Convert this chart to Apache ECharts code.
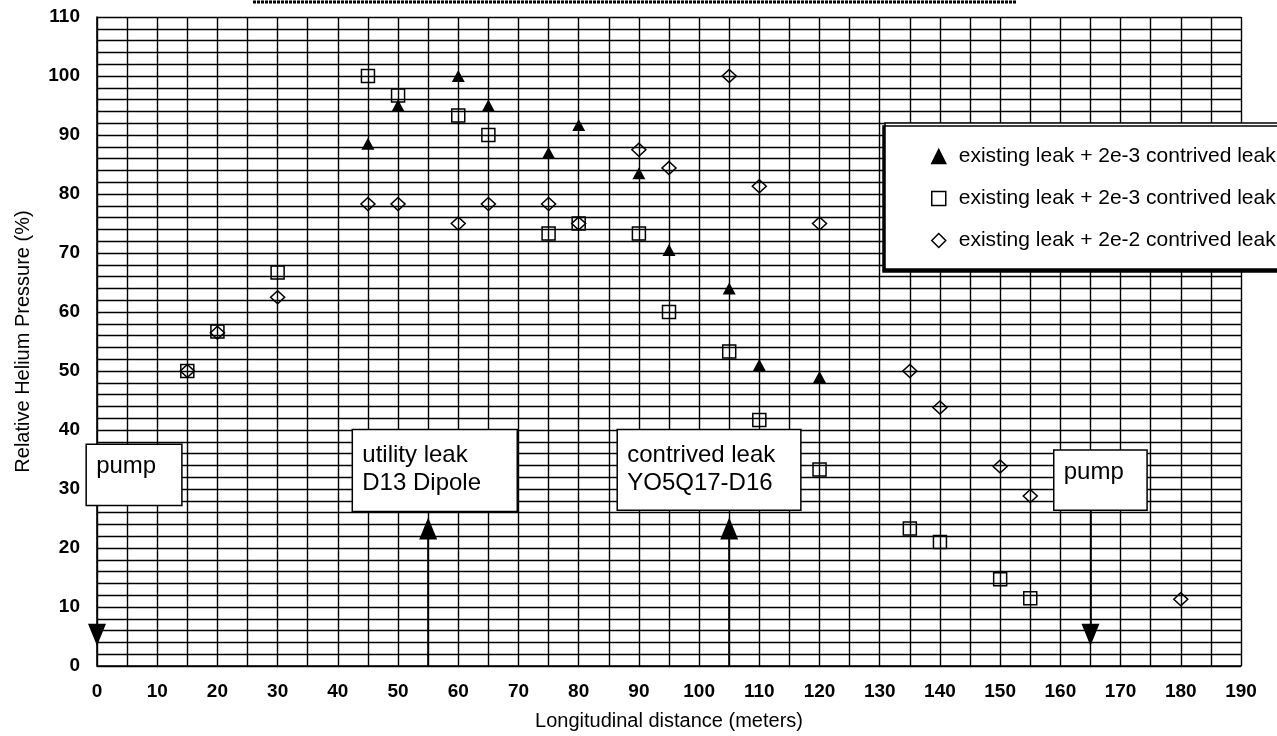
<!DOCTYPE html>
<html>
<head>
<meta charset="utf-8">
<script src="https://cdn.jsdelivr.net/npm/echarts@6/dist/echarts.min.js"></script>
<style>
  html, body { margin: 0; padding: 0; background: #fff; }
  #chart { width: 1277px; height: 736px; }
</style>
</head>
<body>
<div id="chart"></div>
<script>
// ---- data ----
const seriesNames = [
  'existing leak + 2e-3 contrived leak',
  'existing leak + 2e-3 contrived leak ',
  'existing leak + 2e-2 contrived leak'
];
const xTriangle = [45, 50, 60, 65, 75, 80, 90, 95, 105, 110, 120];
const yTriangle = [88.5, 95, 100, 95, 87, 91.7, 83.5, 70.5, 64, 51, 49];

const xSquare = [15, 20, 30, 45, 50, 60, 65, 75, 80, 90, 95, 105, 110, 120, 135, 140, 150, 155];
const ySquare = [50, 56.7, 66.7, 100, 96.7, 93.3, 90, 73.3, 75, 73.3, 60, 53.3, 41.7, 33.3, 23.3, 21, 14.7, 11.5];

const xDiamond = [15, 20, 30, 45, 50, 60, 65, 75, 80, 90, 95, 105, 110, 120, 135, 140, 150, 155, 180];
const yDiamond = [50, 56.5, 62.5, 78.3, 78.3, 75, 78.3, 78.3, 75, 87.5, 84.4, 100, 81.3, 75, 50, 43.8, 33.8, 28.8, 11.3];

// Location markers: pumps (pointing down) and leaks (pointing up)
const arrowX = [0, 55, 105, 165];
const arrowY = [5.3, 23.3, 23.3, 5.3];
const arrowDown = [true, false, false, true];
// shaft of each marker [x, yFrom, yTo]
const shafts = [[55, 0, 22], [105, 0, 22], [165, 26.4, 7]];

// annotation boxes: text and box extent [x0, yTop, x1, yBottom] in axis units
const noteText = ['pump', 'utility leak\nD13 Dipole', 'contrived leak\nYO5Q17-D16', 'pump'];
const noteBox = [
  [-1.8, 37.6, 14.1, 27.2],
  [42.4, 40.1, 69.8, 26.2],
  [86.4, 40.1, 116.9, 26.4],
  [158.9, 36.6, 174.4, 26.4]
];

const xLabelMin = 0, xLabelMax = 190, xStep = 10;
const yLabelMin = 0, yLabelMax = 110, yStep = 10;

// ---- chart ----
const FONT = '"Liberation Sans", Arial, Helvetica, sans-serif';
const zip = (xs, ys) => xs.map((x, i) => [x, ys[i]]);

const chart = echarts.init(document.getElementById('chart'), null, { renderer: 'canvas' });

const gridLine = { show: true, lineStyle: { color: '#000', width: 1.4 } };

const option = {
  animation: false,
  backgroundColor: '#fff',
  textStyle: { fontFamily: FONT },
  grid: { left: 97, right: 36, top: 17, bottom: 69, containLabel: false },
  xAxis: {
    type: 'value', min: xLabelMin, max: xLabelMax, interval: xStep,
    name: 'Longitudinal distance (meters)', nameLocation: 'middle', nameGap: 45,
    nameTextStyle: { fontSize: 20, color: '#000', fontFamily: FONT },
    axisLine: { show: true, onZero: false, lineStyle: { color: '#000', width: 1.6 } },
    axisTick: { show: false },
    axisLabel: { fontSize: 19, color: '#000', margin: 16, fontFamily: FONT, fontWeight: 'bold' },
    splitLine: gridLine,
    minorTick: { show: false, splitNumber: 2 },
    minorSplitLine: gridLine
  },
  yAxis: {
    type: 'value', min: yLabelMin, max: yLabelMax, interval: yStep,
    name: 'Relative Helium Pressure (%)', nameLocation: 'middle', nameGap: 64,
    nameTextStyle: { fontSize: 20, color: '#000', fontFamily: FONT },
    axisLine: { show: true, onZero: false, lineStyle: { color: '#000', width: 1.6 } },
    axisTick: { show: false },
    axisLabel: { fontSize: 19, color: '#000', margin: 17, fontFamily: FONT, fontWeight: 'bold' },
    splitLine: gridLine,
    minorTick: { show: false, splitNumber: 5 },
    minorSplitLine: gridLine
  },
  legend: {
    orient: 'vertical',
    left: 885, top: 123,
    padding: [23, 30, 18, 46],
    itemGap: 21,
    itemWidth: 14, itemHeight: 14,
    itemStyle: { borderWidth: 1.5 },
    textStyle: { fontSize: 21, color: '#000', fontFamily: FONT, padding: [0, 0, 0, 8] },
    backgroundColor: '#fff',
    borderColor: '#000', borderWidth: 1.5, borderRadius: 0,
    shadowColor: '#000', shadowBlur: 0, shadowOffsetX: -2, shadowOffsetY: 3,
    data: seriesNames
  },
  series: [
    {
      name: seriesNames[0], type: 'scatter', data: zip(xTriangle, yTriangle),
      symbol: 'triangle', symbolSize: [13, 12], clip: false,
      itemStyle: { color: '#000', borderColor: '#000', borderWidth: 0, opacity: 1 }
    },
    {
      name: seriesNames[1], type: 'scatter', data: zip(xSquare, ySquare),
      symbol: 'rect', symbolSize: 13, clip: false,
      itemStyle: { color: 'rgba(255,255,255,0)', borderColor: '#000', borderWidth: 1.5, opacity: 1 }
    },
    {
      name: seriesNames[2], type: 'scatter', data: zip(xDiamond, yDiamond),
      symbol: 'diamond', symbolSize: [14, 13], clip: false,
      itemStyle: { color: 'rgba(255,255,255,0)', borderColor: '#000', borderWidth: 1.5, opacity: 1 }
    },
    {
      name: 'markers', type: 'scatter', clip: false, silent: true,
      data: arrowX.map((x, i) => ({
        value: [x, arrowY[i]],
        symbolRotate: arrowDown[i] ? 180 : 0
      })),
      symbol: 'triangle', symbolSize: [18, 22],
      itemStyle: { color: '#000', opacity: 1 },
      markLine: {
        silent: true, symbol: 'none', animation: false,
        label: { show: false },
        lineStyle: { color: '#000', width: 1.6, type: 'solid' },
        data: shafts.map(s => [{ coord: [s[0], s[1]] }, { coord: [s[0], s[2]] }])
      },
      z: 4
    }
  ]
};

chart.setOption(option);

// annotation boxes placed from axis units
function drawNotes() {
  const elements = [];
  noteBox.forEach((b, i) => {
    const p0 = chart.convertToPixel({ gridIndex: 0 }, [b[0], b[1]]);
    const p1 = chart.convertToPixel({ gridIndex: 0 }, [b[2], b[3]]);
    const lines = noteText[i].split('\n').length;
    elements.push({
      type: 'rect', z: 10,
      shape: { x: p0[0], y: p0[1], width: p1[0] - p0[0], height: p1[1] - p0[1] },
      style: { fill: '#fff', stroke: '#000', lineWidth: 1.5 }
    });
    elements.push({
      type: 'text', z: 11,
      x: p0[0] + 10, y: p0[1] + (lines > 1 ? 12 : 8),
      style: {
        text: noteText[i], fill: '#000', font: '24px ' + FONT,
        lineHeight: 28, align: 'left', verticalAlign: 'top'
      }
    });
  });
  // underline remnant at the top edge
  elements.push({
    type: 'line', z: 10,
    shape: { x1: 253, y1: 2, x2: 1017, y2: 2 },
    style: { stroke: '#000', lineWidth: 3, lineDash: [3, 1] }
  });
  chart.setOption({ graphic: { elements } });
}
drawNotes();
</script>
</body>
</html>
